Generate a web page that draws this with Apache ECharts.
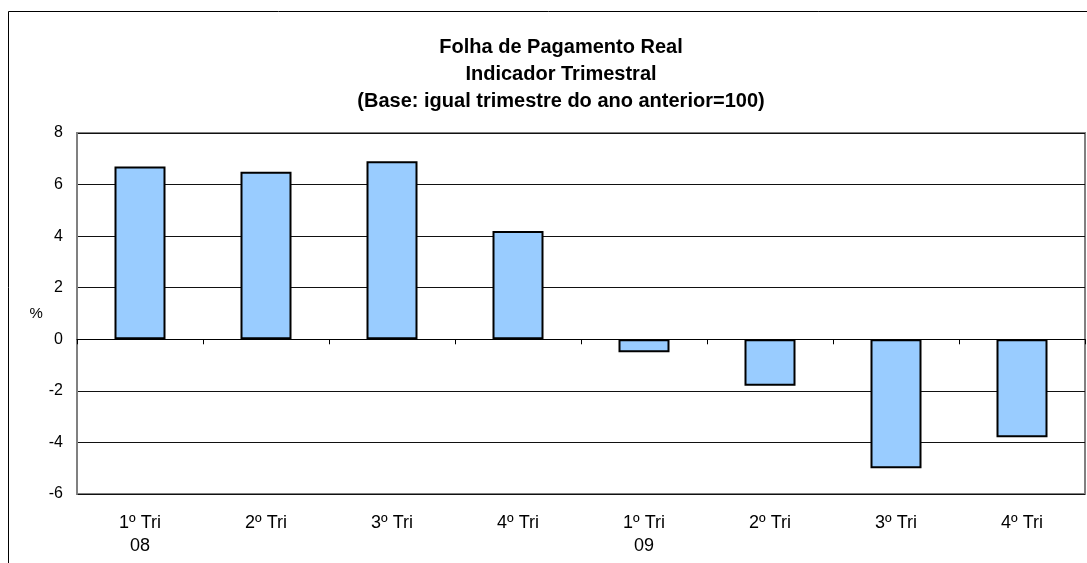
<!DOCTYPE html>
<html>
<head>
<meta charset="utf-8">
<script src="https://cdn.jsdelivr.net/npm/echarts@6/dist/echarts.min.js"></script>
<style>
  html, body { margin: 0; padding: 0; background: #fff; }
  #chart { width: 1087px; height: 563px; }
</style>
</head>
<body>
<div id="chart"></div>
<script>
const categories = ['1º Tri\n08', '2º Tri', '3º Tri', '4º Tri', '1º Tri\n09', '2º Tri', '3º Tri', '4º Tri']
const folhaValues = [6.7, 6.5, 6.9, 4.2, -0.5, -1.8, -5.0, -3.8]
const yTicks = { min: -6, max: 8, interval: 2 }
const titleText = 'Folha de Pagamento Real\nIndicador Trimestral\n(Base: igual trimestre do ano anterior=100)'

const chart = echarts.init(document.getElementById('chart'))
const font = '"Liberation Sans", Arial, sans-serif'

chart.setOption({
  animation: false,
  textStyle: { fontFamily: font },
  title: {
    text: titleText,
    left: 556,
    top: 29,
    textAlign: 'center',
    textStyle: {
      fontSize: 20,
      fontWeight: 'bold',
      color: '#000',
      lineHeight: 27,
      fontFamily: font
    }
  },
  // moldura externa do gráfico
  graphic: [{
    type: 'rect',
    shape: { x: 8.5, y: 11.5, width: 1200, height: 700 },
    style: { fill: 'none', stroke: '#000', lineWidth: 1 },
    silent: true,
    z: -10
  }],
  grid: {
    left: 77,
    right: 2,
    top: 133,
    bottom: 69,
    show: true,
    borderColor: '#808080',
    borderWidth: 2
  },
  xAxis: [{
    type: 'category',
    data: categories,
    axisLine: { onZero: true, lineStyle: { color: '#000', width: 1 } },
    axisTick: { show: true, length: 5, lineStyle: { color: '#000' } },
    axisLabel: { show: false }
  }, {
    type: 'category',
    data: categories,
    position: 'bottom',
    axisLine: { show: false },
    axisTick: { show: false },
    axisLabel: {
      color: '#000',
      fontSize: 18,
      lineHeight: 23,
      margin: 18,
      fontFamily: font
    }
  }],
  yAxis: {
    type: 'value',
    min: yTicks.min,
    max: yTicks.max,
    interval: yTicks.interval,
    name: '%',
    nameLocation: 'middle',
    nameRotate: 0,
    nameGap: 34,
    nameTextStyle: { color: '#000', fontSize: 15, fontFamily: font },
    axisLine: { show: true, lineStyle: { color: '#808080', width: 2 } },
    axisTick: { show: false },
    axisLabel: { color: '#000', fontSize: 16, margin: 14, fontFamily: font },
    splitLine: { lineStyle: { color: '#111', width: 1 } }
  },
  series: [{
    type: 'bar',
    data: folhaValues,
    xAxisIndex: 0,
    barWidth: 51,
    itemStyle: {
      color: '#99CCFF',
      borderColor: '#000',
      borderWidth: 2
    }
  }]
})
</script>
</body>
</html>
